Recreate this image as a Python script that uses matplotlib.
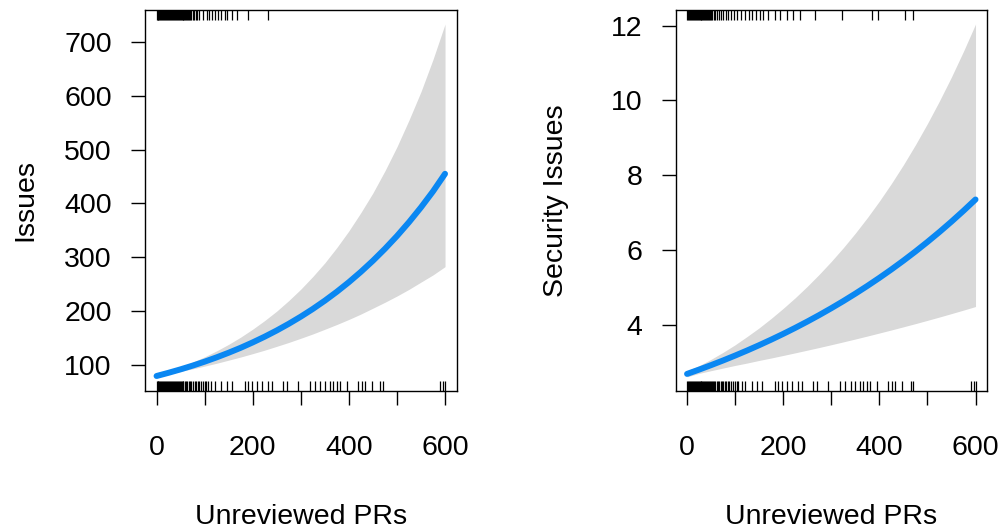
import numpy as np
import matplotlib
matplotlib.use("Agg")
import matplotlib.pyplot as plt

# 1. Data (effect of unreviewed PRs)
x_grid = [0, 25, 50, 75, 100, 125, 150, 175, 200, 225, 250, 275, 300,
          325, 350, 375, 400, 425, 450, 475, 500, 525, 550, 575, 600]

issues_fit = [79, 85.0, 91.4, 98.3, 105.7, 113.7, 122.3, 131.5, 141.5, 152.2, 163.7, 176.1, 189.4,
              203.7, 219.1, 235.7, 253.5, 272.7, 293.3, 315.5, 339.3, 365.0, 392.6, 422.3, 455]
issues_lo = [77.4, 82.6, 87.5, 92.3, 97.4, 102.7, 108.5, 114.3, 120.6, 127.1, 134.2, 141.4, 149.2,
             157.2, 165.9, 174.8, 184.2, 194.2, 205.1, 216.1, 227.7, 240.1, 253.6, 267.0, 282.3]
issues_hi = [80.6, 87.5, 95.5, 104.7, 114.7, 125.8, 137.9, 151.3, 166.1, 182.2, 199.7, 219.3, 240.5,
             264.0, 289.4, 317.9, 348.8, 382.9, 419.4, 460.5, 505.2, 554.8, 607.8, 667.7, 733.4]

sec_fit = [2.680, 2.795, 2.915, 3.040, 3.171, 3.307, 3.449, 3.597, 3.751, 3.912, 4.080, 4.255, 4.438,
           4.628, 4.827, 5.034, 5.250, 5.475, 5.710, 5.955, 6.211, 6.477, 6.755, 7.045, 7.347]
sec_lo = [2.601, 2.694, 2.767, 2.837, 2.907, 2.971, 3.041, 3.106, 3.174, 3.244, 3.315, 3.387, 3.461,
          3.537, 3.614, 3.693, 3.774, 3.856, 3.940, 4.025, 4.113, 4.202, 4.294, 4.387, 4.483]
sec_hi = [2.762, 2.900, 3.071, 3.258, 3.459, 3.681, 3.912, 4.165, 4.434, 4.718, 5.022, 5.346, 5.690,
          6.056, 6.446, 6.861, 7.303, 7.774, 8.275, 8.810, 9.379, 9.984, 10.627, 11.313, 12.04]

# rug marks (PR counts)
rug_bottom = [0, 2, 4, 6, 8, 10, 12, 14, 16, 18, 20, 22, 24, 26, 28, 30, 32, 34, 36,
              38, 40, 42, 44, 46, 48, 50, 52, 54, 56, 59, 62, 64, 67, 70, 72, 75, 79,
              82, 86, 88, 92, 96, 100, 103, 106, 114, 121, 135, 146, 156, 183, 190,
              198, 208, 219, 231, 240, 263, 271, 294, 319, 329, 340, 350, 360, 367,
              375, 381, 396, 419, 427, 433, 448, 465, 471, 590, 596, 600]
rug_top_issues = [0, 2, 4, 6, 8, 10, 12, 14, 16, 18, 20, 22, 24, 26, 28, 30, 32, 34,
                  36, 38, 40, 42, 44, 46, 48, 50, 52, 54, 56, 58, 60, 62, 64, 66, 68, 70,
                  72, 75, 78, 81, 84, 88, 96, 104, 110, 116, 122, 128, 135, 142, 146,
                  156, 167, 190, 231]
rug_top_sec = [0, 2, 4, 6, 8, 10, 12, 14, 16, 18, 20, 22, 24, 26, 28, 30, 32, 34, 36,
               38, 40, 42, 44, 46, 48, 50, 52, 55, 58, 62, 66, 70, 74, 80, 86, 92, 98,
               104, 112, 120, 128, 136, 144, 152, 158, 169, 183, 194, 208, 221, 235,
               267, 323, 385, 398, 454, 469]

panels = [
    ("Issues", issues_fit, issues_lo, issues_hi, rug_top_issues, [100, 200, 300, 400, 500, 600, 700]),
    ("Security Issues", sec_fit, sec_lo, sec_hi, rug_top_sec, [4, 6, 8, 10, 12]),
]

# 2. Figure layout
plt.rcParams["font.family"] = ["Liberation Sans", "DejaVu Sans"]
plt.rcParams["font.size"] = 20.5
fig = plt.figure(figsize=(10.03, 5.31), dpi=100)
lefts = [0.1446, 0.6735]

for left, (ylab, fit, lo, hi, rug_top, yticks) in zip(lefts, panels):
    ax = fig.add_axes([left, 0.2637, 0.3106, 0.7175])
    ax.fill_between(x_grid, lo, hi, color="#D9D9D9", linewidth=0)
    ax.plot(x_grid, fit, color="#0A87F2", linewidth=4.3, solid_capstyle="round")

    # rugs
    trans = ax.get_xaxis_transform()
    ax.vlines(rug_bottom, 0, 0.026, transform=trans, color="black", linewidth=0.9)
    ax.vlines(rug_top, 0.974, 1, transform=trans, color="black", linewidth=0.9)

    # R style 4% padding
    ax.set_xlim(-24, 624)
    span = max(hi) - min(lo)
    ax.set_ylim(min(lo) - 0.04 * span, max(hi) + 0.04 * span)

    ax.set_xticks([0, 100, 200, 300, 400, 500, 600])
    ax.set_xticklabels(["0", "", "200", "", "400", "", "600"])
    ax.set_yticks(yticks)
    ax.tick_params(axis="x", length=10, width=1, pad=22)
    ax.tick_params(axis="y", length=10, width=1, pad=14)
    for s in ax.spines.values():
        s.set_linewidth(1)

    ax.set_xlabel("Unreviewed PRs")
    ax.xaxis.label.set_va("center")
    ax.xaxis.set_label_coords(0.5, -0.331)
    ax.set_ylabel(ylab)
    ax.yaxis.label.set_va("center")
    ax.yaxis.set_label_coords(-0.383, 0.5)

plt.savefig("out.png", dpi=100)
